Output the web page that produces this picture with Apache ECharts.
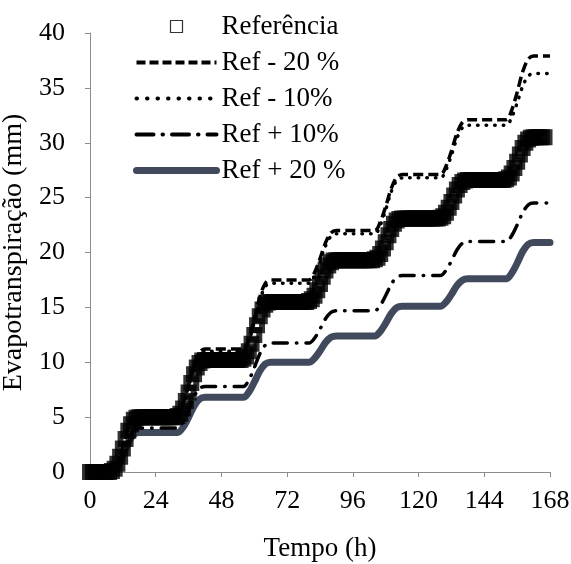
<!DOCTYPE html>
<html>
<head>
<meta charset="utf-8">
<script src="https://cdn.jsdelivr.net/npm/echarts@6.0.0/dist/echarts.min.js"></script>
<style>
html,body{margin:0;padding:0;background:#fff;}
#c{width:571px;height:564px;}
</style>
</head>
<body>
<div id="c"></div>
<script>
// Tick labels
const xTicks = [0, 24, 48, 72, 96, 120, 144, 168];
const yTicks = [0, 5, 10, 15, 20, 25, 30, 35, 40];

// Referência: hourly values, hour 0 .. 166
const refValues = [
  0,0,0,0,0,0,0,0,
  0.1,0.3,0.75,1.4,2.15,3.0,3.75,4.35,4.75,4.95,
  5.0,5.0,5.0,5.0,5.0,5.0,5.0,5.0,5.0,5.0,5.0,5.0,5.0,5.0,
  5.1,5.31,5.78,6.46,7.24,8.12,8.9,9.52,9.94,10.15,
  10.2,10.2,10.2,10.2,10.2,10.2,10.2,10.2,10.2,10.2,10.2,10.2,10.2,10.2,
  10.31,10.52,11.0,11.68,12.48,13.38,14.18,14.81,15.24,15.45,
  15.5,15.5,15.5,15.5,15.5,15.5,15.5,15.5,15.5,15.5,15.5,15.5,15.5,15.5,
  15.58,15.73,16.07,16.56,17.13,17.78,18.35,18.81,19.11,19.26,
  19.3,19.3,19.3,19.3,19.3,19.3,19.3,19.3,19.3,19.3,19.3,19.3,19.3,19.3,
  19.38,19.53,19.87,20.36,20.93,21.58,22.15,22.61,22.91,23.06,
  23.1,23.1,23.1,23.1,23.1,23.1,23.1,23.1,23.1,23.1,23.1,23.1,23.1,23.1,
  23.17,23.31,23.63,24.08,24.61,25.2,25.73,26.15,26.43,26.57,
  26.6,26.6,26.6,26.6,26.6,26.6,26.6,26.6,26.6,26.6,26.6,26.6,26.6,26.6,
  26.68,26.83,27.19,27.69,28.28,28.94,29.53,29.99,30.3,30.46,
  30.5,30.5,30.5,30.5,30.5
];
const refStepHours = 1;

// [hour, mm]
const minus20 = [[0,0],[8,0],[10,0.81],[12,2.32],[14,4.05],[16,5.13],[18,5.4],
  [32,5.4],[34,6.27],[36,7.89],[38,9.75],[40,10.91],[42,11.2],
  [56,11.2],[58,12.15],[60,13.91],[62,15.93],[64,17.19],[66,17.5],
  [80,17.5],[82,18.18],[84,19.44],[86,20.88],[88,21.78],[90,22.0],
  [104,22.0],[106,22.77],[108,24.19],[110,25.83],[112,26.85],[114,27.1],
  [128,27.1],[130,27.85],[132,29.25],[134,30.85],[136,31.85],[138,32.1],
  [152,32.1],[154,32.97],[156,34.59],[158,36.45],[160,37.61],[162,37.9],[168,37.9]];

const minus10 = [[0,0],[8,0],[10,0.8],[12,2.28],[14,3.98],[16,5.04],[18,5.3],
  [32,5.3],[34,6.16],[36,7.75],[38,9.58],[40,10.72],[42,11.0],
  [56,11.0],[58,11.93],[60,13.67],[62,15.65],[64,16.89],[66,17.2],
  [80,17.2],[82,17.88],[84,19.14],[86,20.58],[88,21.48],[90,21.7],
  [104,21.7],[106,22.47],[108,23.89],[110,25.53],[112,26.55],[114,26.8],
  [128,26.8],[130,27.52],[132,28.86],[134,30.4],[136,31.36],[138,31.6],
  [152,31.6],[154,32.31],[156,33.62],[158,35.13],[160,36.07],[162,36.3],[168,36.3]];

const plus10 = [[0,0],[8,0],[10,0.6],[12,1.72],[14,3.0],[16,3.8],[18,4.0],
  [32,4.0],[34,4.57],[36,5.63],[38,6.85],[40,7.61],[42,7.8],
  [56,7.8],[58,8.39],[60,9.5],[62,10.76],[64,11.55],[66,11.75],
  [80,11.75],[82,12.19],[84,13.02],[86,13.96],[88,14.55],[90,14.7],
  [104,14.7],[106,15.18],[108,16.08],[110,17.1],[112,17.74],[114,17.9],
  [128,17.9],[130,18.37],[132,19.23],[134,20.23],[136,20.85],[138,21.0],
  [152,21.0],[154,21.53],[156,22.51],[158,23.63],[160,24.33],[162,24.5],[168,24.5]];

const plus20 = [[0,0],[8,0],[10,0.54],[12,1.55],[14,2.7],[16,3.42],[18,3.6],
  [32,3.6],[34,4.08],[36,4.98],[38,6.0],[40,6.64],[42,6.8],
  [56,6.8],[58,7.28],[60,8.18],[62,9.2],[64,9.84],[66,10.0],
  [80,10.0],[82,10.36],[84,11.03],[86,11.8],[88,12.28],[90,12.4],
  [104,12.4],[106,12.81],[108,13.56],[110,14.43],[112,14.97],[114,15.1],
  [128,15.1],[130,15.48],[132,16.18],[134,16.98],[136,17.48],[138,17.6],
  [152,17.6],[154,18.1],[156,19.02],[158,20.08],[160,20.74],[162,20.9],[168,20.9]];

const FONT = 'Liberation Serif';
const refData = refValues.map((v, i) => [i * refStepHours, v]);
const hidden = {opacity: 0};

const chart = echarts.init(document.getElementById('c'), null, {renderer: 'canvas'});
chart.setOption({
  animation: false,
  backgroundColor: '#fff',
  grid: {left: 90, right: 21, top: 33, bottom: 92, containLabel: false, outerBoundsMode: 'none'},
  legend: {
    orient: 'vertical',
    left: 128,
    top: 8,
    itemWidth: 80,
    itemHeight: 12,
    itemGap: 9,
    selectedMode: false,
    textStyle: {fontFamily: FONT, fontSize: 27, color: '#000'},
    data: [
      {name: 'Referência', icon: 'path://M0,0H10V10H0Z',
       itemStyle: {color: '#fff', borderColor: '#000', borderWidth: 1.2}},
      {name: 'Ref - 20 %', itemStyle: hidden, lineStyle: {width: 4, type: [9, 4], color: '#000'}},
      {name: 'Ref - 10%', itemStyle: hidden, lineStyle: {width: 4, type: [0.5, 10], cap: 'round', color: '#000'}},
      {name: 'Ref + 10%', itemStyle: hidden, lineStyle: {width: 4, type: [17, 9, 0.5, 9], color: '#000'}},
      {name: 'Ref + 20 %', itemStyle: hidden, lineStyle: {width: 7, cap: 'round', color: '#404a5c'}}
    ]
  },
  xAxis: {
    type: 'value', min: xTicks[0], max: xTicks[xTicks.length - 1], interval: 24,
    name: 'Tempo (h)', nameLocation: 'middle', nameGap: 63,
    nameTextStyle: {fontFamily: FONT, fontSize: 27, color: '#000'},
    axisLine: {show: true, lineStyle: {color: '#8c8c8c', width: 1}},
    axisTick: {show: true, length: 5, lineStyle: {color: '#8c8c8c'}},
    axisLabel: {fontFamily: FONT, fontSize: 26, color: '#000', margin: 16},
    splitLine: {show: false}
  },
  yAxis: {
    type: 'value', min: yTicks[0], max: yTicks[yTicks.length - 1], interval: 5,
    name: 'Evapotranspiração (mm)', nameLocation: 'middle', nameGap: 57,
    nameTextStyle: {fontFamily: FONT, fontSize: 28, color: '#000'},
    axisLine: {show: true, lineStyle: {color: '#8c8c8c', width: 1}},
    axisTick: {show: true, length: 5, lineStyle: {color: '#8c8c8c'}},
    axisLabel: {fontFamily: FONT, fontSize: 26, color: '#000', margin: 25},
    splitLine: {show: false}
  },
  series: [
    {name: 'Ref + 20 %', type: 'line', data: plus20, symbol: 'none', smooth: 0.3, z: 2, silent: true,
     lineStyle: {color: '#404a5c', width: 7, cap: 'round', join: 'round'}, itemStyle: {color: '#404a5c'}},
    {name: 'Ref + 10%', type: 'line', data: plus10, symbol: 'none', smooth: 0.3, z: 3, silent: true,
     lineStyle: {color: '#000', width: 3.5, type: [14, 9, 0.5, 9], cap: 'round'}, itemStyle: {color: '#000'}},
    {name: 'Ref - 10%', type: 'line', data: minus10, symbol: 'none', smooth: 0.3, z: 3, silent: true,
     lineStyle: {color: '#000', width: 3.5, type: [0.5, 8], cap: 'round'}, itemStyle: {color: '#000'}},
    {name: 'Ref - 20 %', type: 'line', data: minus20, symbol: 'none', smooth: 0.3, z: 3, silent: true,
     lineStyle: {color: '#000', width: 3.5, type: [10, 5]}, itemStyle: {color: '#000'}},
    {name: 'Referência', type: 'scatter', data: refData, symbol: 'rect', symbolSize: 10, z: 5, silent: true,
     clip: false,
     itemStyle: {color: 'rgba(0,0,0,0)', borderColor: '#000', borderWidth: 6}}
  ]
});
</script>
</body>
</html>
